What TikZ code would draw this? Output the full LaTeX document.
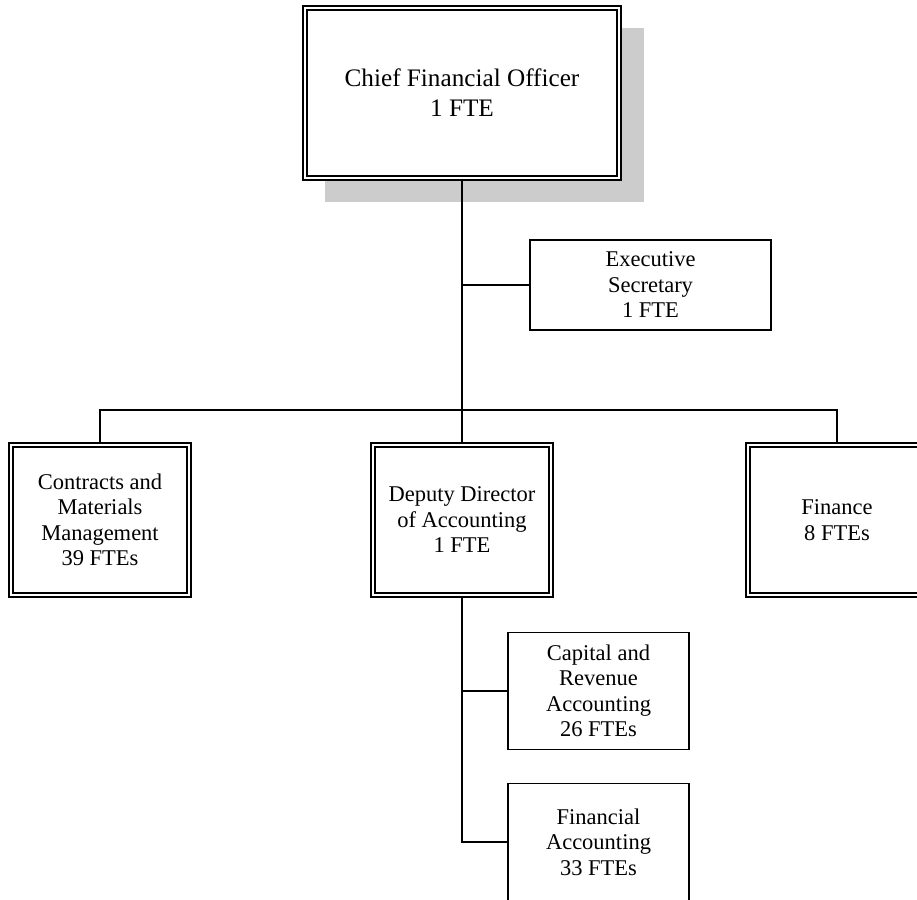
\documentclass[tikz,border=0pt]{standalone}
\usepackage{fontspec}
\setmainfont{Liberation Serif}
\usetikzlibrary{backgrounds}
\tikzset{
  link/.style={line width=1.5pt},
  boxtext/.style={inner sep=0pt, align=center, fill=white,
    font=\fontsize{22.5}{25.5}\selectfont},
  dbox/.style={boxtext, draw, double, line width=1.3pt, double distance=2.7pt,
    outer sep=2.65pt},
  sbox/.style={boxtext, draw, line width=1.3pt},
  shadowfill/.style={fill=gray!40}
}
\begin{document}
\begin{tikzpicture}[x=1pt,y=-1pt]
\useasboundingbox (0,0) rectangle (917,899);
\clip (0,0) rectangle (917,899);

% head of the department
\node[dbox, minimum width=314pt, minimum height=170pt,
      font=\fontsize{25.2}{30}\selectfont] (cfo) at (462,93)
  {Chief Financial Officer\\1 FTE};
\begin{scope}[on background layer]
  \fill[shadowfill] ([shift={(22.5,22.5)}]cfo.north west)
    rectangle ([shift={(22.5,21.5)}]cfo.south east);
\end{scope}

% staff position
\node[sbox, minimum width=241pt, minimum height=90pt] (sec) at (650.5,285)
  {Executive\\Secretary\\1 FTE};

% divisions
\node[dbox, minimum width=178pt, minimum height=150pt] (con) at (100,520)
  {Contracts and\\Materials\\Management\\39 FTEs};
\node[dbox, minimum width=178pt, minimum height=150pt] (dep) at (462,520)
  {Deputy Director\\of Accounting\\1 FTE};
\node[dbox, minimum width=178pt, minimum height=150pt] (fin) at (837,520)
  {Finance\\8 FTEs};

% accounting sections
\node[sbox, minimum width=181pt, minimum height=117pt] (cap) at (598.5,691)
  {Capital and\\Revenue\\Accounting\\26 FTEs};
\node[sbox, minimum width=181pt, minimum height=117pt] (facc) at (598.5,842)
  {Financial\\Accounting\\33 FTEs};

% reporting lines
\coordinate (bus) at (462,410);
\draw[link] (cfo.south) -- (dep.north);
\draw[link] (sec.west) -- (sec.west -| cfo.south);
\draw[link] (con.north) |- (bus) -| (fin.north);
\draw[link] (dep.south) |- (cap.west);
\draw[link] (dep.south) |- (facc.west);
\end{tikzpicture}
\end{document}
